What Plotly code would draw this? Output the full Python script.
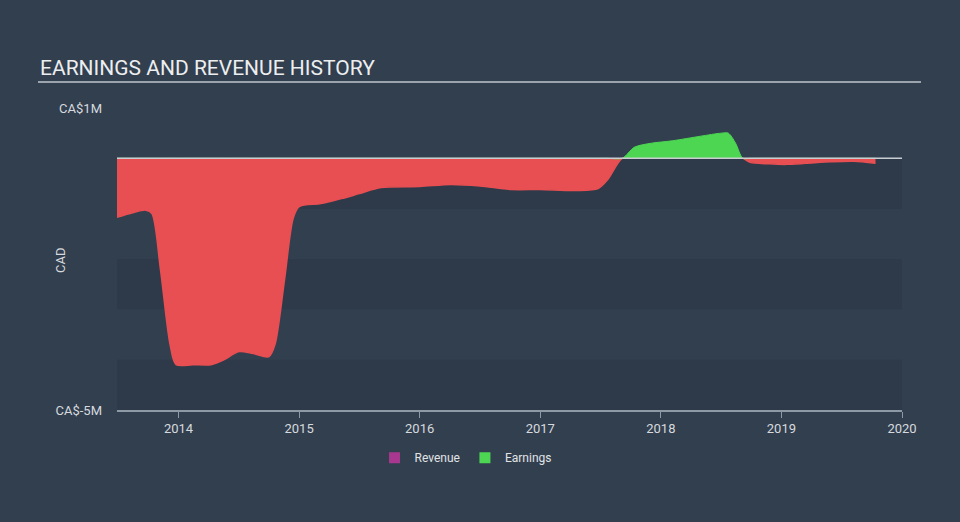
import numpy as np
import plotly.graph_objects as go

# Earnings history (CAD), x in decimal years
years = [2013.49, 2013.62, 2013.73, 2013.78, 2013.85, 2013.93, 2013.98, 2014.12, 2014.27,
         2014.38, 2014.5, 2014.62, 2014.75, 2014.8, 2014.88, 2014.95, 2015.0, 2015.18,
         2015.35, 2015.5, 2015.68, 2016.0, 2016.26, 2016.5, 2016.76, 2017.0, 2017.3,
         2017.48, 2017.56, 2017.68, 2017.78, 2017.92, 2018.1, 2018.33, 2018.5, 2018.56,
         2018.62, 2018.68, 2018.74, 2018.9, 2019.04, 2019.2, 2019.41, 2019.6, 2019.78]
earnings = [-1.17e6, -1.08e6, -1.03e6, -1.1e6, -2.2e6, -3.7e6, -4.1e6, -4.1e6, -4.1e6,
            -4.0e6, -3.84e6, -3.88e6, -3.94e6, -3.7e6, -2.4e6, -1.2e6, -0.96e6, -0.9e6,
            -0.8e6, -0.7e6, -0.58e6, -0.56e6, -0.52e6, -0.55e6, -0.62e6, -0.62e6, -0.64e6,
            -0.6e6, -0.42e6, 0.0, 0.22e6, 0.3e6, 0.35e6, 0.44e6, 0.5e6, 0.5e6,
            0.3e6, 0.0, -0.08e6, -0.11e6, -0.12e6, -0.1e6, -0.07e6, -0.06e6, -0.1e6]

tick_years = [2014, 2015, 2016, 2017, 2018, 2019, 2020]
y_tickvals = [1e6, -5e6]
y_ticktext = ["CA$1M", "CA$-5M"]

RED = "#e84f52"
GREEN = "#4cd652"
PURPLE = "#a8388f"
BG = "#323f4f"
BAND = "#2e3a49"

e = np.array(earnings)
neg = np.minimum(e, 0)
pos = np.maximum(e, 0)

fig = go.Figure()
fig.add_trace(go.Scatter(x=years, y=neg, mode="lines", line=dict(color=RED, width=1.5, shape="spline", smoothing=0.8),
                         fill="tozeroy", fillcolor=RED, showlegend=False, hoverinfo="skip"))
fig.add_trace(go.Scatter(x=years, y=pos, mode="lines", line=dict(color=GREEN, width=1, shape="spline", smoothing=0.8),
                         fill="tozeroy", fillcolor=GREEN, showlegend=False, hoverinfo="skip"))
fig.add_trace(go.Scatter(x=[None], y=[None], mode="markers", name="Revenue",
                         marker=dict(symbol="square", size=11, color=PURPLE)))
fig.add_trace(go.Scatter(x=[None], y=[None], mode="markers", name="Earnings",
                         marker=dict(symbol="square", size=11, color=GREEN)))

shapes = []
for lo, hi in [(-1e6, 0), (-3e6, -2e6), (-5e6, -4e6)]:
    shapes.append(dict(type="rect", xref="paper", yref="y", x0=0, x1=1, y0=lo, y1=hi,
                       fillcolor=BAND, line=dict(width=0), layer="below"))
shapes.append(dict(type="line", xref="paper", yref="y", x0=0, x1=1, y0=0, y1=0,
                   line=dict(color="#c9ced3", width=1.5), layer="above"))
# title underline
shapes.append(dict(type="line", xref="paper", yref="paper", x0=(38-117)/785, x1=(921-117)/785,
                   y0=(410-82)/302, y1=(410-82)/302, line=dict(color="#9ba3ad", width=2)))

fig.update_layout(
    width=960, height=522,
    paper_bgcolor=BG, plot_bgcolor=BG,
    margin=dict(l=117, r=58, t=108, b=112),
    font=dict(family="Roboto", color="#d6dade"),
    shapes=shapes,
    annotations=[
        dict(text="EARNINGS AND REVENUE HISTORY", xref="paper", yref="paper",
             x=(38-117)/785, y=(410-68)/302, xanchor="left", yanchor="middle",
             showarrow=False, font=dict(size=21, color="#eceef0", family="Roboto")),
        dict(text="CAD", xref="paper", yref="paper", x=(60-117)/785, y=(410-261)/302,
             xanchor="center", yanchor="middle", textangle=-90, showarrow=False,
             font=dict(size=13, color="#d6dade")),
    ],
    xaxis=dict(range=[2013.49, 2020.0], tickvals=tick_years, ticktext=[str(t) for t in tick_years],
               showgrid=False, zeroline=False, showline=True, linecolor="#8e99a6", linewidth=1.5,
               ticks="outside", ticklen=6, tickcolor="#8e99a6", tickfont=dict(size=13, color="#d6dade")),
    yaxis=dict(range=[-5e6, 1e6], tickvals=y_tickvals, ticktext=y_ticktext, showgrid=False,
               zeroline=False, showline=False, ticks="", ticklabelstandoff=14,
               tickfont=dict(size=13, color="#d6dade")),
    legend=dict(orientation="h", x=0.444, xanchor="center", y=-0.11, yanchor="top",
                font=dict(size=12, color="#e0e3e6"), bgcolor="rgba(0,0,0,0)", itemwidth=30),
)

fig.write_html("out.html", config={"displayModeBar": False})
with open("out.html", "r", encoding="utf-8") as f:
    html = f.read()
html = html.replace("<head>", "<head><style>html,body{margin:0;padding:0;background:%s;overflow:hidden}</style>" % BG, 1)
with open("out.html", "w", encoding="utf-8") as f:
    f.write(html)
